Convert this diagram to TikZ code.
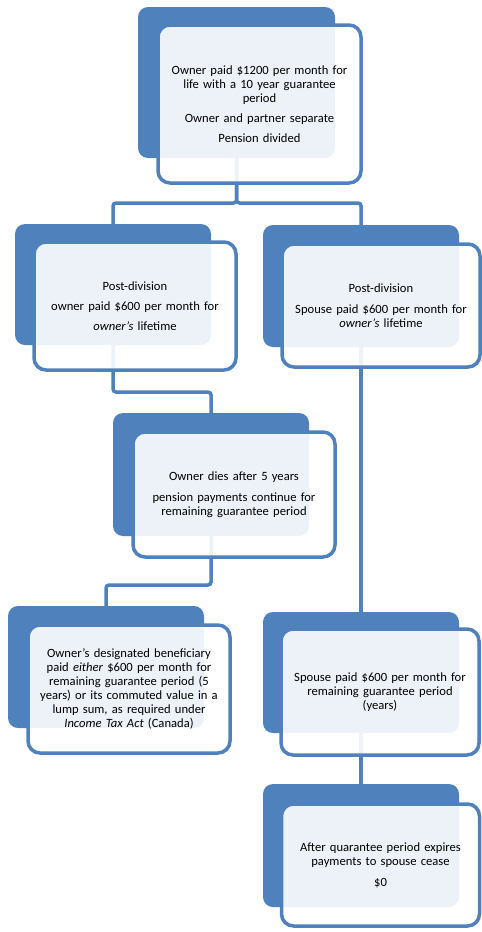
\documentclass[tikz,border=0pt]{standalone}
\usepackage{fontspec}
\setmainfont{Carlito}
\usepackage{tikz}
\pgfdeclarelayer{bg}
\pgfsetlayers{bg,main}
\definecolor{boxblue}{HTML}{4F81BD}

\begin{document}
\begin{tikzpicture}[x=1pt,y=-1pt,
    backbox/.style={fill=boxblue, rounded corners=10pt, inner sep=0pt, outer sep=0pt},
    frontbox/.style={draw=boxblue, line width=3.5pt, fill=white, fill opacity=0.9,
        text opacity=1, rounded corners=12pt, inner sep=2pt, outer sep=0pt,
        text width=194pt, align=center, font=\fontsize{12.6}{14}\selectfont},
    link/.style={draw=boxblue, line width=3.5pt, rounded corners=3pt}]
\useasboundingbox (0,0) rectangle (482,932);

% Back boxes
\node[backbox, minimum width=197pt, minimum height=151pt] (topb) at (236.5,82.5) {};
\node[backbox, minimum width=196pt, minimum height=121pt] (ownb) at (113,284.5) {};
\node[backbox, minimum width=196pt, minimum height=122pt] (spb) at (361,286) {};
\node[backbox, minimum width=196pt, minimum height=123pt] (diesb) at (211,474.5) {};
\node[backbox, minimum width=196pt, minimum height=122pt] (benb) at (106,667) {};
\node[backbox, minimum width=196pt, minimum height=121pt] (remb) at (361,672.5) {};
\node[backbox, minimum width=196pt, minimum height=123pt] (endb) at (361,845.5) {};

% Front boxes
\node[frontbox, minimum width=203pt, minimum height=158pt] (top) at (259.5,104)
    {Owner paid \$1200 per month for\\ life with a 10 year guarantee\\ period\\[6pt]
     Owner and partner separate\\[6pt] Pension divided};
\node[frontbox, minimum width=202pt, minimum height=128pt] (own) at (135,306)
    {Post-division\\[6pt] owner paid \$600 per month for\\[6pt] \textit{owner’s} lifetime};
\node[frontbox, minimum width=198pt, minimum height=123pt] (sp) at (381,305.5)
    {Post-division\\[7pt] Spouse paid \$600 per month for\\ \textit{owner’s} lifetime};
\node[frontbox, minimum width=202pt, minimum height=125pt] (dies) at (234,494.5)
    {Owner dies after 5 years\\[7pt] pension payments continue for\\ remaining guarantee period};
\node[frontbox, minimum width=202pt, minimum height=128pt] (ben) at (129,689)
    {Owner’s designated beneficiary\\ paid \textit{either} \$600 per month for\\
     remaining guarantee period (5\\ years) or its commuted value in a\\
     lump sum, as required under\\ \textit{Income Tax Act} (Canada)};
\node[frontbox, minimum width=198pt, minimum height=126pt] (rem) at (380,692)
    {Spouse paid \$600 per month for\\ remaining guarantee period\\ (years)};
\node[frontbox, minimum width=197pt, minimum height=122pt] (end) at (380.5,865)
    {After quarantee period expires\\ payments to spouse cease\\[7pt] \$0};

% Connectors
\begin{pgfonlayer}{bg}
\draw[link] (topb.south) -- ++(0,45) -| (ownb.north);
\draw[link] (topb.south) -- ++(0,45) -| (spb.north);
\draw[link] (ownb.south) -- ++(0,47) -| (diesb.north);
\draw[link] (diesb.south) -- ++(0,49) -| (benb.north);
\draw[link] (spb.south) -- (remb.north);
\draw[link] (remb.south) -- (endb.north);
\end{pgfonlayer}
\end{tikzpicture}
\end{document}
